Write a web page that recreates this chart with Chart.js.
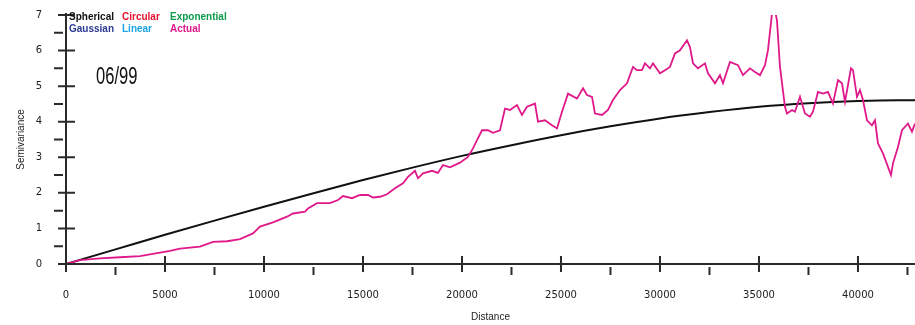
<!DOCTYPE html>
<html>
<head>
<meta charset="utf-8">
<script src="https://cdn.jsdelivr.net/npm/chart.js@4/dist/chart.umd.min.js"></script>
<style>
  html, body { margin: 0; padding: 0; background: #fff; }
  #wrap { width: 915px; height: 325px; }
</style>
</head>
<body>
<div id="wrap"><canvas id="semiChart" width="915" height="325"></canvas></div>
<script>
// axis ticks
const distTicks = [0, 5000, 10000, 15000, 20000, 25000, 30000, 35000, 40000];
const semiTicks = [0, 1, 2, 3, 4, 5, 6, 7];

// model curve (spherical)
const modelDist = [0, 2500, 5000, 7500, 10000, 12500, 15000, 17500, 20000, 22500, 25000, 27500, 30000, 32500, 35000, 37500, 40000, 42000, 42880];
const modelSemi = [0, 0.41, 0.82, 1.22, 1.61, 1.99, 2.36, 2.71, 3.04, 3.34, 3.62, 3.87, 4.09, 4.27, 4.42, 4.52, 4.58, 4.60, 4.60];

// actual semivariance trace
const actualDist = [0, 707, 1717, 2727, 3737, 4747, 5253, 5758, 6768, 7424, 8131, 8788, 9444, 9798, 10455, 11162, 11465, 12071, 12222, 12677,
  13333, 13737, 13990, 14444, 14848, 15253, 15505, 15859, 16212, 16616, 17020, 17273, 17626, 17778, 18030, 18485, 18788, 19040, 19394, 19899,
  20303, 20556, 20758, 21010, 21313, 21566, 21919, 22172, 22424, 22778, 23030, 23283, 23687, 23838, 24192, 24545, 24798, 25051, 25354, 25808,
  26111, 26313, 26566, 26717, 27071, 27374, 27626, 27980, 28333, 28636, 28838, 29091, 29242, 29495, 29646, 30000, 30253, 30505, 30758, 31010,
  31364, 31515, 31667, 31919, 32273, 32424, 32778, 33030, 33182, 33535, 33939, 34192, 34545, 34798, 35051, 35303, 35455, 35657, 35808, 35909,
  36061, 36313, 36414, 36667, 36818, 37071, 37323, 37576, 37727, 37980, 38232, 38485, 38737, 38990, 39192, 39343, 39646, 39747, 39949, 40101,
  40253, 40455, 40707, 40859, 41010, 41263, 41515, 41667, 41768, 42020, 42222, 42525, 42727, 42879];
const actualSemi = [0, 0.11, 0.16, 0.19, 0.22, 0.32, 0.37, 0.43, 0.49, 0.62, 0.64, 0.70, 0.86, 1.05, 1.17, 1.33, 1.42, 1.47, 1.56, 1.71,
  1.71, 1.80, 1.91, 1.85, 1.94, 1.94, 1.87, 1.89, 1.96, 2.13, 2.27, 2.45, 2.62, 2.41, 2.55, 2.62, 2.56, 2.78, 2.72, 2.85,
  3.01, 3.25, 3.48, 3.76, 3.76, 3.69, 3.76, 4.37, 4.33, 4.47, 4.19, 4.42, 4.51, 4.00, 4.04, 3.90, 3.81, 4.28, 4.79, 4.65,
  4.94, 4.75, 4.70, 4.23, 4.19, 4.33, 4.61, 4.89, 5.08, 5.54, 5.45, 5.45, 5.64, 5.50, 5.64, 5.36, 5.45, 5.54, 5.92, 6.01,
  6.29, 6.10, 5.64, 5.50, 5.64, 5.36, 5.08, 5.31, 5.08, 5.68, 5.59, 5.31, 5.50, 5.40, 5.31, 5.59, 6.01, 7.04, 7.13, 6.85,
  5.54, 4.42, 4.23, 4.33, 4.28, 4.70, 4.23, 4.14, 4.28, 4.84, 4.79, 4.84, 4.51, 5.17, 5.08, 4.56, 5.50, 5.45, 4.70, 4.89,
  4.61, 4.04, 3.90, 4.04, 3.39, 3.11, 2.73, 2.50, 2.83, 3.29, 3.76, 3.95, 3.72, 3.95];

const legendNames = ["Spherical", "Circular", "Exponential", "Gaussian", "Linear", "Actual"];
const legendColors = ["#111111", "#e3122e", "#0c9a4c", "#2b3990", "#1ba2e0", "#e0198a"];
const dateLabel = "06/99";

const xMax = 42880;
const yMax = 7;

// axis lines, inward/outward ticks, legend text and date stamp
const decorPlugin = {
  id: "decor",
  afterDraw(chart) {
    const ctx = chart.ctx;
    const xs = chart.scales.x, ys = chart.scales.y;
    const x0 = xs.getPixelForValue(0), y0 = ys.getPixelForValue(0);
    ctx.save();
    ctx.strokeStyle = "#2a2a2a";
    ctx.lineWidth = 2;
    ctx.beginPath();
    ctx.moveTo(x0, ys.getPixelForValue(yMax) - 2); ctx.lineTo(x0, y0 + 8);
    ctx.moveTo(x0 - 8, y0); ctx.lineTo(chart.width, y0);
    semiTicks.forEach(v => {
      const p = ys.getPixelForValue(v);
      ctx.moveTo(x0 - 8, p); ctx.lineTo(x0 + 9, p);
      if (v < yMax) {
        const m = ys.getPixelForValue(v + 0.5);
        ctx.moveTo(x0 - 12, m); ctx.lineTo(x0 - 3, m);
      }
    });
    distTicks.forEach(d => {
      const p = xs.getPixelForValue(d);
      ctx.moveTo(p, y0 - 8); ctx.lineTo(p, y0 + 8);
      const m = xs.getPixelForValue(d + 2500);
      ctx.moveTo(m, y0 + 3); ctx.lineTo(m, y0 + 11);
    });
    ctx.stroke();

    // legend block
    const cols = [69, 122, 170];
    const rows = [17, 29];
    ctx.font = "bold 10px 'Liberation Sans', Arial, sans-serif";
    ctx.textBaseline = "middle";
    ctx.textAlign = "left";
    legendNames.forEach((name, i) => {
      ctx.fillStyle = legendColors[i];
      ctx.fillText(name, cols[i % 3], rows[Math.floor(i / 3)]);
    });

    // date stamp, condensed
    ctx.fillStyle = "#111";
    ctx.font = "23px 'Liberation Sans Narrow', 'Liberation Sans', sans-serif";
    ctx.textBaseline = "alphabetic";
    ctx.translate(96, 84);
    ctx.scale(0.72, 1);
    ctx.fillText(dateLabel, 0, 0);
    ctx.restore();
  }
};

new Chart(document.getElementById("semiChart"), {
  type: "line",
  data: {
    datasets: [
      {
        label: "Actual",
        data: actualDist.map((d, i) => ({ x: d, y: actualSemi[i] })),
        borderColor: "#e0198a",
        borderWidth: 1.8,
        pointRadius: 0,
        tension: 0
      },
      {
        label: "Spherical",
        data: modelDist.map((d, i) => ({ x: d, y: modelSemi[i] })),
        borderColor: "#111111",
        borderWidth: 2,
        pointRadius: 0,
        cubicInterpolationMode: "monotone"
      }
    ]
  },
  plugins: [decorPlugin],
  options: {
    responsive: false,
    animation: false,
    devicePixelRatio: 1,
    layout: { padding: { top: 15, right: 0, bottom: 0, left: 0 } },
    plugins: { legend: { display: false }, tooltip: { enabled: false } },
    scales: {
      x: {
        type: "linear",
        min: 0,
        max: xMax,
        grid: { display: false, drawTicks: true, tickLength: 25 },
        border: { display: false },
        afterBuildTicks: s => { s.ticks = distTicks.map(v => ({ value: v })); },
        afterFit: s => { s.height = 61; },
        ticks: {
          maxRotation: 0,
          autoSkip: false,
          padding: 0,
          color: "#222",
          font: { family: "'DejaVu Sans', sans-serif", size: 10 },
          callback: v => String(v)
        },
        title: {
          display: true,
          text: "Distance",
          color: "#222",
          font: { family: "'Liberation Sans', Arial, sans-serif", size: 10 },
          padding: { top: 0, bottom: 2 }
        }
      },
      y: {
        min: 0,
        max: yMax,
        grid: { display: false, drawTicks: true, tickLength: 24 },
        border: { display: false },
        afterBuildTicks: s => { s.ticks = semiTicks.map(v => ({ value: v })); },
        afterFit: s => { s.width = 66; },
        ticks: {
          padding: 0,
          color: "#222",
          font: { family: "'DejaVu Sans', sans-serif", size: 10 },
          callback: v => String(v)
        },
        title: {
          display: true,
          text: "Semivariance",
          color: "#222",
          font: { family: "'Liberation Sans', Arial, sans-serif", size: 10 },
          padding: { top: 15, bottom: 0 }
        }
      }
    }
  }
});
</script>
</body>
</html>
